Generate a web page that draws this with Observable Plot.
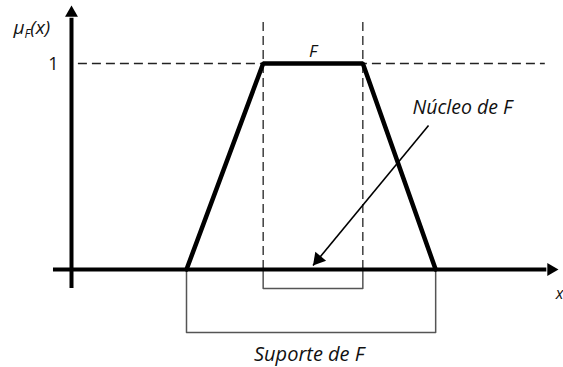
<!DOCTYPE html>
<html>
<head>
<meta charset="utf-8">
<script src="https://cdn.jsdelivr.net/npm/d3@7"></script>
<script src="https://cdn.jsdelivr.net/npm/@observablehq/plot@0.6"></script>
<style>
  html, body { margin: 0; padding: 0; background: #fff; }
  svg { display: block; }
</style>
</head>
<body>
<div id="chart"></div>
<script>
// Trapezoidal membership function F
const xPoints = [1.5, 2.5, 3.8, 4.75];   // a, b, c, d
const muValues = [0, 1, 1, 0];
const supportEnds = [1.5, 4.75];
const coreEnds = [2.5, 3.8];
const labelOne = ["1"];
const labelAxisY = ["μF(x)"];
const labelAxisX = ["x"];
const labelF = ["F"];
const labelCore = ["Núcleo de F"];
const labelSupport = ["Suporte de F"];

const trap = xPoints.map((x, i) => ({x, y: muValues[i]}));

// scale geometry
const X_DOMAIN = [0, 6], X_RANGE = [71, 531];
const Y_DOMAIN = [0, 1], Y_RANGE = [269, 63];
const pxX = (X_RANGE[1] - X_RANGE[0]) / (X_DOMAIN[1] - X_DOMAIN[0]);
const pxY = (Y_RANGE[0] - Y_RANGE[1]) / (Y_DOMAIN[1] - Y_DOMAIN[0]);

// arrowhead helper (d3 triangle: tip at 2|y| from centroid)
function head(r, ux, uy) {
  const size = Math.PI * r * r;
  const k = Math.sqrt(size / (Math.sqrt(3) * 3));
  const len = Math.hypot(ux, uy);
  ux /= len; uy /= len;
  return {dx: -ux * 2 * k, dy: -uy * 2 * k, rotate: Math.atan2(ux, -uy) * 180 / Math.PI};
}

const coreBracket = [
  {x: coreEnds[0], y: 0}, {x: coreEnds[0], y: -0.092},
  {x: coreEnds[1], y: -0.092}, {x: coreEnds[1], y: 0}
];
const supportBracket = [
  {x: supportEnds[0], y: 0}, {x: supportEnds[0], y: -0.306},
  {x: supportEnds[1], y: -0.306}, {x: supportEnds[1], y: 0}
];

const arrowFrom = {x: 4.657, y: 0.699};
const arrowTo = {x: (coreEnds[0] + coreEnds[1]) / 2, y: 0.019};
const aHead = head(5.2, (arrowTo.x - arrowFrom.x) * pxX, -(arrowTo.y - arrowFrom.y) * pxY);
const yHead = head(4.8, 0, -1);
const xHead = head(4.8, 1, 0);

const italic = {fontFamily: "Open Sans", fontStyle: "italic", fill: "#111"};

const plot = Plot.plot({
  width: 563,
  height: 367,
  margin: 0,
  x: {domain: X_DOMAIN, range: X_RANGE, axis: null},
  y: {domain: Y_DOMAIN, range: Y_RANGE, axis: null},
  style: {fontFamily: "Open Sans", background: "#fff"},
  marks: [
    // dashed guides
    Plot.ruleY([1], {x1: 0.09, x2: 6.18, stroke: "#222", strokeWidth: 1.3, strokeDasharray: "9,5"}),
    Plot.ruleX(coreEnds, {y1: 0, y2: 1.21, stroke: "#222", strokeWidth: 1.3, strokeDasharray: "9,5"}),
    // brackets
    Plot.line(coreBracket, {x: "x", y: "y", stroke: "#555", strokeWidth: 1.5, curve: "linear"}),
    Plot.line(supportBracket, {x: "x", y: "y", stroke: "#555", strokeWidth: 1.5, curve: "linear"}),
    // axes
    Plot.ruleY([0], {x1: -0.235, x2: 6.2, stroke: "#000", strokeWidth: 4}),
    Plot.ruleX([0], {y1: -0.092, y2: 1.22, stroke: "#000", strokeWidth: 4}),
    Plot.dot([{x: 0, y: (Y_RANGE[0] - 5) / pxY}], {x: "x", y: "y", symbol: "triangle", r: 4.8, fill: "#000", stroke: "none", dx: yHead.dx, dy: yHead.dy, rotate: yHead.rotate}),
    Plot.dot([{x: (558 - X_RANGE[0]) / pxX, y: 0}], {x: "x", y: "y", symbol: "triangle", r: 4.8, fill: "#000", stroke: "none", dx: xHead.dx, dy: xHead.dy, rotate: xHead.rotate}),
    // membership function
    Plot.line(trap, {x: "x", y: "y", stroke: "#000", strokeWidth: 4.5, strokeLinejoin: "miter"}),
    // annotation arrow
    Plot.link([{x1: arrowFrom.x, y1: arrowFrom.y, x2: arrowTo.x, y2: arrowTo.y}], {
      x1: "x1", y1: "y1", x2: "x2", y2: "y2", stroke: "#000", strokeWidth: 1.6
    }),
    Plot.dot([arrowTo], {x: "x", y: "y", symbol: "triangle", r: 5.2, fill: "#000", stroke: "none", dx: aHead.dx, dy: aHead.dy, rotate: aHead.rotate}),
    // labels
    Plot.text(labelOne, {x: -0.235, y: 1, text: d => d, fontSize: 18, fill: "#111", textAnchor: "middle", dy: 1}),
    Plot.text(labelAxisY, {x: -0.757, y: 1.175, text: d => d, fontSize: 19, ...italic, textAnchor: "start", ariaLabel: () => "mu-label"}),
    Plot.text(labelAxisX, {x: (563 - X_RANGE[0]) / pxX, y: -0.117, text: d => d, fontSize: 16, ...italic, textAnchor: "end"}),
    Plot.text(labelF, {x: (coreEnds[0] + coreEnds[1]) / 2, y: 1.058, text: d => d, fontSize: 17, ...italic, textAnchor: "middle"}),
    Plot.text(labelCore, {x: 4.448, y: 0.786, text: d => d, fontSize: 19.5, ...italic, textAnchor: "start"}),
    Plot.text(labelSupport, {x: 3.10, y: -0.413, text: d => d, fontSize: 20, ...italic, textAnchor: "middle"})
  ]
});

// subscript F in μF(x)
d3.select(plot).selectAll('text').filter(function() { return this.textContent === "μF(x)"; }).each(function() {
  const t = d3.select(this);
  t.text(null);
  t.append("tspan").text("μ");
  t.append("tspan").attr("font-size", 12).attr("dy", 4).text("F");
  t.append("tspan").attr("dy", -4).text("(x)");
});

document.getElementById("chart").appendChild(plot);
</script>
</body>
</html>
